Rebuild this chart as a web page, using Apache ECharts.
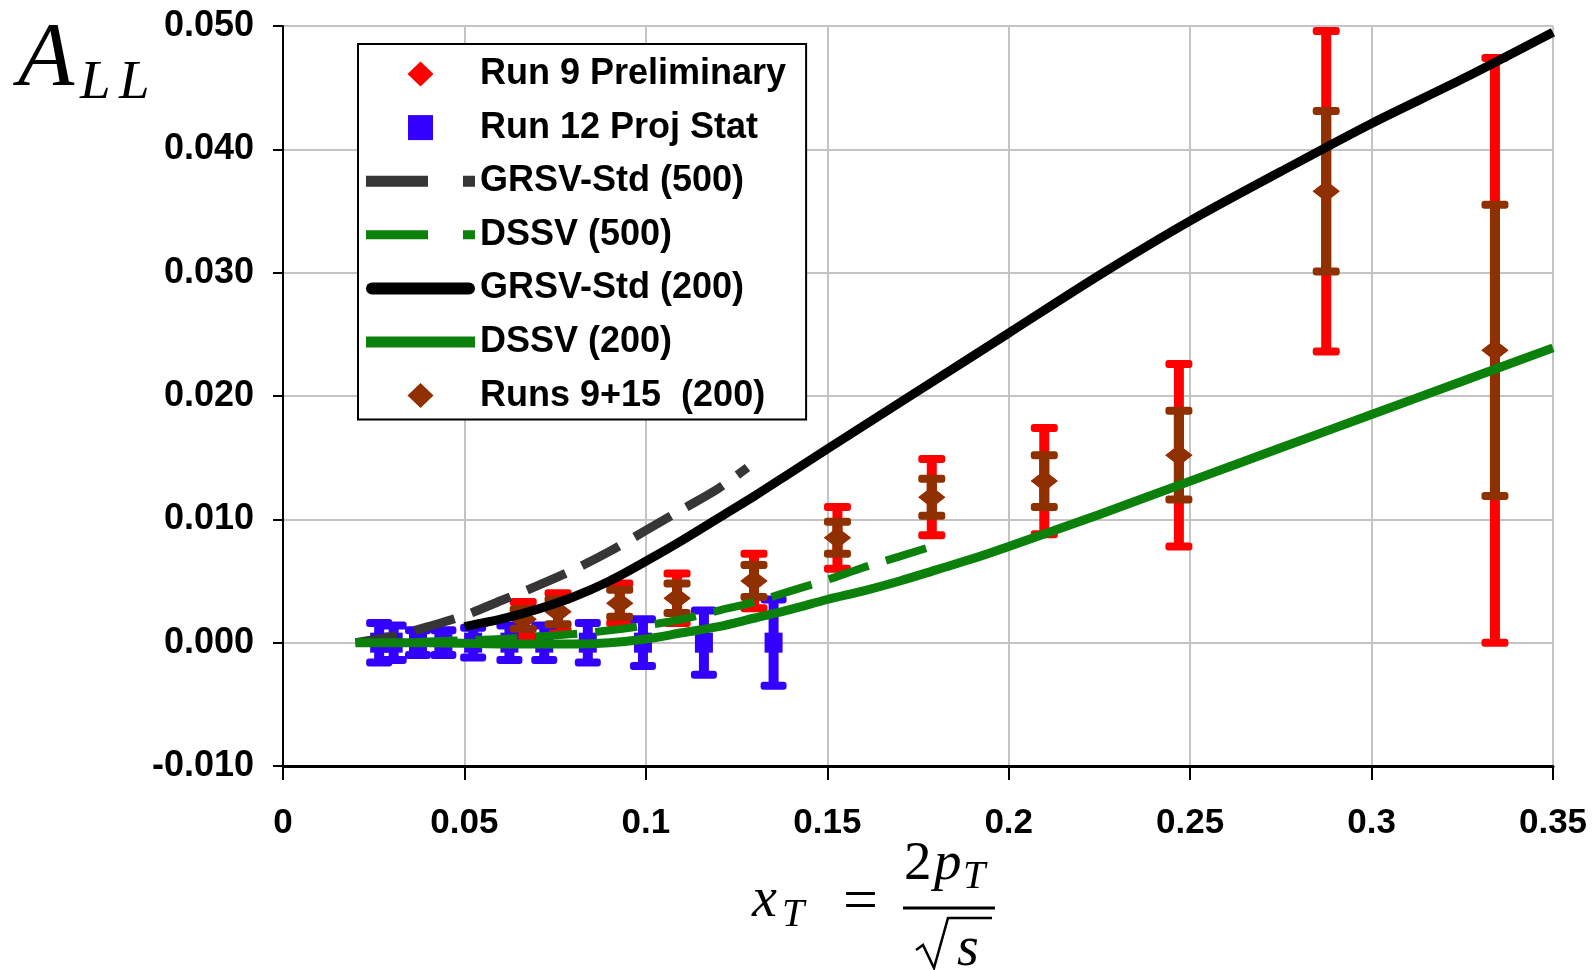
<!DOCTYPE html>
<html>
<head>
<meta charset="utf-8">
<script src="https://cdn.jsdelivr.net/npm/echarts@6/dist/echarts.min.js"></script>
<style>
  html, body { margin: 0; padding: 0; background: #fff; }
  #chart { width: 1594px; height: 970px; }
</style>
</head>
<body>
<div id="chart"></div>
<script>
// ---- measured asymmetries: Run 9 preliminary and Runs 9+15 share x_T and A_LL ----
const run9X   = [0.0662, 0.0758, 0.0928, 0.1086, 0.1298, 0.1528, 0.1788, 0.2098, 0.2469, 0.2875, 0.3340];
const run9Y   = [0.0019, 0.0025, 0.0032, 0.0036, 0.0050, 0.0085, 0.0118, 0.0131, 0.0152, 0.0366, 0.0237];
const run9Err = [0.0014, 0.0015, 0.0016, 0.0020, 0.0022, 0.0025, 0.0031, 0.0043, 0.0074, 0.0130, 0.0237];
const run915Err = [0.0008, 0.0010, 0.0011, 0.0012, 0.0013, 0.0013, 0.0015, 0.0021, 0.0036, 0.0065, 0.0118];

// ---- Run 12 projected statistical uncertainties (500 GeV) ----
const run12X   = [0.0265, 0.0305, 0.0372, 0.0442, 0.0524, 0.0624, 0.0720, 0.0840, 0.0992, 0.1160, 0.1352];
const run12Y   = [0, 0, 0, 0, 0, 0, 0, 0, 0, 0, 0];
const run12Err = [0.0016, 0.0014, 0.0010, 0.0010, 0.0012, 0.0014, 0.0014, 0.0016, 0.0019, 0.0026, 0.0035];

// ---- model curves ----
const grsv500X = [0.020, 0.030, 0.040, 0.050, 0.060, 0.070, 0.080, 0.090, 0.100, 0.110, 0.120, 0.128];
const grsv500Y = [0.0000, 0.0005, 0.0013, 0.0022, 0.0034, 0.0046, 0.0059, 0.0074, 0.0091, 0.0108, 0.0125, 0.0142];

const dssv500X = [0.020, 0.030, 0.040, 0.050, 0.060, 0.070, 0.080, 0.090, 0.100, 0.110, 0.120, 0.130, 0.140, 0.150, 0.160, 0.170, 0.180];
const dssv500Y = [0.0000, 0.0000, 0.0001, 0.0002, 0.0003, 0.0005, 0.0007, 0.0010, 0.0014, 0.0019, 0.0026, 0.0033, 0.0042, 0.0051, 0.0061, 0.0070, 0.0079];

const grsv200X = [0.050, 0.060, 0.070, 0.080, 0.090, 0.100, 0.110, 0.120, 0.130, 0.140, 0.150, 0.175, 0.200, 0.225, 0.250, 0.275, 0.300, 0.325, 0.350];
const grsv200Y = [0.0013, 0.0019, 0.0027, 0.0037, 0.0050, 0.0066, 0.0083, 0.0101, 0.0119, 0.0138, 0.0157, 0.0204, 0.0251, 0.0298, 0.0342, 0.0382, 0.0421, 0.0457, 0.0495];

const dssv200X = [0.020, 0.040, 0.060, 0.080, 0.090, 0.100, 0.110, 0.120, 0.130, 0.140, 0.150, 0.160, 0.170, 0.180, 0.190, 0.200, 0.225, 0.250, 0.275, 0.300, 0.325, 0.350];
const dssv200Y = [0.0000, 0.0000, -0.0001, -0.0001, 0.0000, 0.0003, 0.0008, 0.0013, 0.0020, 0.0027, 0.0035, 0.0042, 0.0050, 0.0059, 0.0068, 0.0078, 0.0104, 0.0131, 0.0158, 0.0185, 0.0212, 0.0239];

// ---- axes ----
const xMin = 0, xMax = 0.35, xStep = 0.05;
const yMin = -0.010, yMax = 0.050, yStep = 0.010;

const legendNames = ['Run 9 Preliminary', 'Run 12 Proj Stat', 'GRSV-Std (500)', 'DSSV (500)',
                     'GRSV-Std (200)', 'DSSV (200)', 'Runs 9+15  (200)'];

const COLORS = {
  red: '#ff0000', blue: '#3300ff', gray: '#363636',
  green: '#0b800b', black: '#000000', brown: '#8f3000'
};

const zip = (xs, ys) => xs.map((x, i) => [x, ys[i]]);
const bars = (xs, ys, es) => xs.map((x, i) => [x, ys[i] - es[i], ys[i] + es[i]]);

// vertical error bar with flat caps, drawn through the axis scales
function errorBar(color, barW, capW, capH) {
  return function (params, api) {
    const x = api.value(0);
    const lo = api.coord([x, api.value(1)]);
    const hi = api.coord([x, api.value(2)]);
    const cap = p => ({
      type: 'rect',
      shape: { x: p[0] - capW / 2, y: p[1] - capH / 2, width: capW, height: capH, r: capH / 2 - 1 },
      style: { fill: color }
    });
    return {
      type: 'group',
      children: [
        { type: 'line', shape: { x1: lo[0], y1: lo[1], x2: hi[0], y2: hi[1] },
          style: { stroke: color, lineWidth: barW } },
        cap(hi), cap(lo)
      ]
    };
  };
}

const serif = '"Liberation Serif", "Times New Roman", serif';
function mathText(str, x, y, size, italic) {
  return {
    type: 'text', x: x, y: y, silent: true,
    style: {
      text: str, fill: '#000',
      font: (italic ? 'italic ' : '') + size + 'px ' + serif,
      align: 'left', verticalAlign: 'middle',
      textAlign: 'left', textVerticalAlign: 'middle'
    }
  };
}

const chart = echarts.init(document.getElementById('chart'), null, { renderer: 'canvas' });

const sansBold = { fontFamily: '"Liberation Sans", Arial, sans-serif', fontWeight: 'bold', color: '#000' };
const DIAMOND = 'path://M13,0L26,12.5L13,25L0,12.5z';

chart.setOption({
  animation: false,
  backgroundColor: '#ffffff',
  grid: { left: 283, right: 41, top: 26, bottom: 204, containLabel: false },
  xAxis: {
    type: 'value', min: xMin, max: xMax, interval: xStep,
    axisLine: { onZero: false, lineStyle: { color: '#000', width: 3 } },
    axisTick: { length: 14, lineStyle: { color: '#000', width: 2 } },
    axisLabel: Object.assign({ fontSize: 35, lineHeight: 36, margin: 39 }, sansBold),
    splitLine: { show: true, lineStyle: { color: '#c4c4c4', width: 2 } }
  },
  yAxis: {
    type: 'value', min: yMin, max: yMax, interval: yStep,
    axisLine: { show: true, onZero: false, lineStyle: { color: '#000', width: 2 } },
    axisTick: { show: true, length: 10, lineStyle: { color: '#000', width: 2 } },
    axisLabel: Object.assign({ fontSize: 36, margin: 29, formatter: v => v.toFixed(3) }, sansBold),
    splitLine: { show: true, lineStyle: { color: '#c4c4c4', width: 2 } }
  },
  legend: {
    orient: 'vertical', left: 358, top: 44,
    padding: [10, 20, 4, 8],
    itemWidth: 109, itemHeight: 25, itemGap: 13.6,
    borderColor: '#000', borderWidth: 2, backgroundColor: '#ffffff',
    selectedMode: false,
    symbolKeepAspect: true,
    itemStyle: { borderWidth: 0, opacity: 1 },
    textStyle: Object.assign({ fontSize: 36, lineHeight: 40 }, sansBold),
    data: [
      { name: legendNames[0], icon: DIAMOND },
      { name: legendNames[1], icon: 'path://M0,0h22v22h-22z' },
      { name: legendNames[2], icon: 'path://M0,0h62v11h-62zM97,0h12v11h-12z' },
      { name: legendNames[3], icon: 'path://M0,0h62v9h-62zM97,0h12v9h-12z' },
      { name: legendNames[4], icon: 'path://M6,0h97a6,6 0 0 1 0,12h-97a6,6 0 0 1 0,-12z' },
      { name: legendNames[5], icon: 'path://M0,0h109v11h-109z' },
      { name: legendNames[6], icon: DIAMOND }
    ]
  },
  graphic: [
    // A_LL
    mathText('A', 18, 61, 92, true),
    mathText('L', 80, 84, 55, true),
    mathText('L', 119, 84, 55, true),
    // x_T = 2p_T / sqrt(s)
    mathText('x', 752, 901, 56, true),
    mathText('T', 782, 915, 40, true),
    mathText('=', 843, 904, 62, false),
    mathText('2', 904, 865, 55, false),
    mathText('p', 934, 865, 55, true),
    mathText('T', 963, 877, 40, true),
    { type: 'line', silent: true,
      shape: { x1: 903, y1: 908, x2: 995, y2: 908 },
      style: { stroke: '#000', lineWidth: 3 } },
    { type: 'polyline', silent: true,
      shape: { points: [[916, 950], [923, 945], [934, 968], [948, 918], [992, 918]] },
      style: { stroke: '#000', lineWidth: 2.5, fill: null } },
    mathText('s', 957, 950, 56, true)
  ],
  series: [
    // Run 9 preliminary: error bars then markers
    { name: 'run9-err', type: 'custom', renderItem: errorBar(COLORS.red, 10, 27, 8),
      data: bars(run9X, run9Y, run9Err), encode: { x: 0, y: [1, 2] }, silent: true },
    { name: legendNames[0], type: 'scatter', symbol: 'diamond', symbolSize: [27, 21],
      color: COLORS.red, itemStyle: { color: COLORS.red, opacity: 1 }, data: zip(run9X, run9Y) },

    // Run 12 projection
    { name: 'run12-err', type: 'custom', renderItem: errorBar(COLORS.blue, 10, 26, 8),
      data: bars(run12X, run12Y, run12Err), encode: { x: 0, y: [1, 2] }, silent: true },
    { name: legendNames[1], type: 'scatter', symbol: 'rect', symbolSize: [18, 20],
      color: COLORS.blue, itemStyle: { color: COLORS.blue, opacity: 1 }, data: zip(run12X, run12Y) },

    // model curves
    { name: legendNames[2], type: 'line', symbol: 'none', smooth: 0.3, color: COLORS.gray,
      lineStyle: { color: COLORS.gray, width: 9, type: [42, 18], cap: 'butt' },
      data: zip(grsv500X, grsv500Y) },
    { name: legendNames[3], type: 'line', symbol: 'none', smooth: 0.3, color: COLORS.green,
      lineStyle: { color: COLORS.green, width: 8, type: [42, 18], cap: 'butt' },
      data: zip(dssv500X, dssv500Y) },
    { name: legendNames[4], type: 'line', symbol: 'none', smooth: 0.3, color: COLORS.black,
      lineStyle: { color: COLORS.black, width: 9 },
      data: zip(grsv200X, grsv200Y) },
    { name: legendNames[5], type: 'line', symbol: 'none', smooth: 0.3, color: COLORS.green,
      lineStyle: { color: COLORS.green, width: 9 },
      data: zip(dssv200X, dssv200Y) },

    // Runs 9+15 combined
    { name: 'run915-err', type: 'custom', renderItem: errorBar(COLORS.brown, 10, 27, 8),
      data: bars(run9X, run9Y, run915Err), encode: { x: 0, y: [1, 2] }, silent: true },
    { name: legendNames[6], type: 'scatter', symbol: 'diamond', symbolSize: [27, 21],
      color: COLORS.brown, itemStyle: { color: COLORS.brown, opacity: 1 }, data: zip(run9X, run9Y) }
  ]
});
</script>
</body>
</html>
